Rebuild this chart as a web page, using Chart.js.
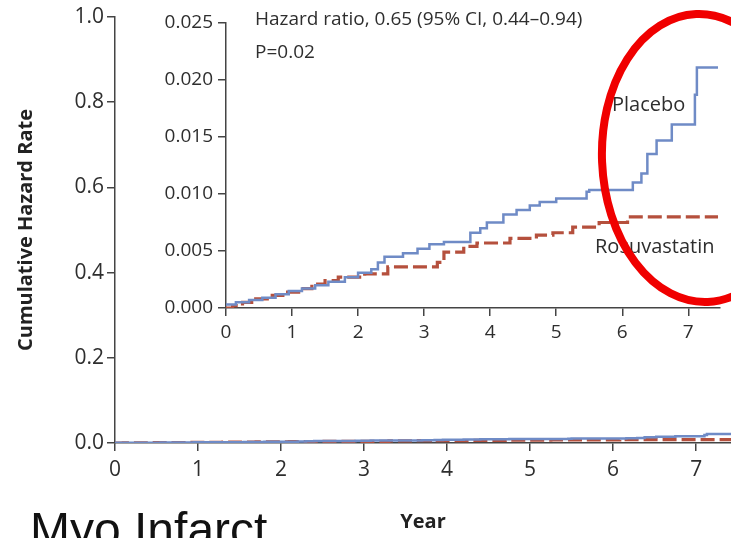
<!DOCTYPE html>
<html>
<head>
<meta charset="utf-8">
<script src="https://cdn.jsdelivr.net/npm/chart.js@4.4.1/dist/chart.umd.min.js"></script>
<style>
  body { margin: 0; background: #fff; overflow: hidden; }
  #wrap { position: relative; width: 731px; height: 538px; }
  #mainChart { position: absolute; left: 0; top: 0; }
  #insetChart { position: absolute; left: 130px; top: 0; }
</style>
</head>
<body>
<div id="wrap">
  <canvas id="mainChart" width="731" height="538"></canvas>
  <canvas id="insetChart" width="601" height="350"></canvas>
</div>
<script>
// step times (years) and cumulative hazard after each step
const placeboYears = [0, 0.15, 0.35, 0.55, 0.75, 0.95, 1.15, 1.35, 1.55, 1.8, 2.0, 2.2, 2.3, 2.4, 2.68, 2.9, 3.08, 3.3, 3.7, 3.85, 3.95, 4.2, 4.4, 4.6, 4.75, 5.0, 5.46, 5.5, 6.16, 6.29, 6.38, 6.52, 6.75, 7.10, 7.13, 7.45];
const placeboRate  = [0.0003, 0.0005, 0.0007, 0.0009, 0.0012, 0.0015, 0.0017, 0.0020, 0.0023, 0.0027, 0.0031, 0.0034, 0.0040, 0.0045, 0.0048, 0.0052, 0.0056, 0.0058, 0.0066, 0.0070, 0.0075, 0.0082, 0.0086, 0.0090, 0.0093, 0.0096, 0.0102, 0.01035, 0.0110, 0.0118, 0.0135, 0.0147, 0.0161, 0.0187, 0.0211, 0.0211];

const rosuYears = [0, 0.1, 0.25, 0.45, 0.7, 0.9, 1.1, 1.3, 1.5, 1.7, 2.1, 2.45, 3.2, 3.3, 3.6, 3.8, 4.3, 4.7, 4.95, 5.25, 5.65, 6.08, 7.45];
const rosuRate  = [0, 0.0002, 0.0005, 0.0008, 0.0011, 0.0014, 0.0017, 0.0021, 0.0024, 0.0027, 0.0030, 0.0036, 0.0040, 0.0049, 0.0054, 0.0057, 0.0061, 0.0064, 0.0066, 0.0071, 0.0075, 0.0080, 0.0080];

const mainXTicks = [0, 1, 2, 3, 4, 5, 6, 7];
const mainYTicks = [0, 0.2, 0.4, 0.6, 0.8, 1.0];
const insetXTicks = [0, 1, 2, 3, 4, 5, 6, 7];
const insetYTicks = [0, 0.005, 0.010, 0.015, 0.020, 0.025];

const BLUE = '#6f8bc6';
const RED = '#b5503d';
const AXIS = '#444';
const TEXT = '#2e2e2e';
const FONT = '"Open Sans", "DejaVu Sans", sans-serif';

const toXY = (xs, ys) => xs.map((x, i) => ({ x: x, y: ys[i] }));

function datasets() {
    return [
        {
            label: 'Placebo',
            data: toXY(placeboYears, placeboRate),
            borderColor: BLUE,
            borderWidth: 2.5,
            stepped: 'before',
            pointRadius: 0
        },
        {
            label: 'Rosuvastatin',
            data: toXY(rosuYears, rosuRate),
            borderColor: RED,
            borderWidth: 3.2,
            borderDash: [14, 5],
            stepped: 'before',
            pointRadius: 0
        }
    ];
}

function axis(min, max, ticks, digits, size, pad) {
    return {
        type: 'linear',
        min: min,
        max: max,
        afterBuildTicks: s => { s.ticks = ticks.map(v => ({ value: v })); },
        grid: { drawOnChartArea: false, tickLength: 8, color: AXIS, lineWidth: 1.5 },
        border: { color: AXIS, width: 1.5 },
        ticks: {
            color: TEXT,
            padding: pad,
            font: { family: FONT, size: size },
            callback: v => v.toFixed(digits)
        }
    };
}

// slide caption under the main chart
const slideTitle = {
    id: 'slideTitle',
    afterDraw(chart) {
        const c = chart.ctx;
        c.save();
        c.fillStyle = '#111';
        c.font = '48px "Liberation Sans", Arial, sans-serif';
        c.textBaseline = 'alphabetic';
        c.fillText('Myo Infarct', 30, 546);
        c.restore();
    }
};

// inset notes and the red highlight ring
const insetNotes = {
    id: 'insetNotes',
    afterDraw(chart) {
        const c = chart.ctx;
        c.save();
        c.fillStyle = TEXT;
        c.textBaseline = 'middle';
        c.font = '19px ' + FONT;
        c.fillText('Hazard ratio, 0.65 (95% CI, 0.44\u20130.94)', 125, 20);
        c.fillText('P=0.02', 125, 53);
        c.font = '20px ' + FONT;
        c.fillText('Placebo', 482, 105);
        c.fillText('Rosuvastatin', 465, 247);

        c.strokeStyle = '#f00000';
        c.lineWidth = 8;
        c.beginPath();
        c.ellipse(572, 158, 100, 144, -0.04, 0, Math.PI * 2);
        c.stroke();
        c.restore();
    }
};

const mainX = axis(0, 7.42, mainXTicks, 0, 21, 6);
mainX.afterFit = s => { s.height = 95; };
mainX.title = { display: true, text: 'Year', color: '#222', padding: { top: 1 }, font: { family: FONT, size: 20, weight: 'bold' } };

const mainY = axis(0, 1, mainYTicks, 1, 21, 3);
mainY.afterFit = s => { s.width = 115; };
mainY.title = { display: true, text: 'Cumulative Hazard Rate', color: '#222', padding: { top: 14 }, font: { family: FONT, size: 20, weight: 'bold' } };

new Chart(document.getElementById('mainChart').getContext('2d'), {
    type: 'line',
    data: { datasets: datasets() },
    options: {
        responsive: false,
        animation: false,
        layout: { padding: { top: 17, right: 0, bottom: 0, left: 0 } },
        plugins: { legend: { display: false }, tooltip: { enabled: false } },
        scales: { x: mainX, y: mainY }
    },
    plugins: [slideTitle]
});

const insetX = axis(0, 7.48, insetXTicks, 0, 19, 5);
insetX.afterFit = s => { s.height = 42; };

const insetY = axis(0, 0.025, insetYTicks, 3, 19, 5);
insetY.afterFit = s => { s.width = 96; };

new Chart(document.getElementById('insetChart').getContext('2d'), {
    type: 'line',
    data: { datasets: datasets() },
    options: {
        responsive: false,
        animation: false,
        layout: { padding: { top: 23, right: 11, bottom: 0, left: 0 } },
        plugins: { legend: { display: false }, tooltip: { enabled: false } },
        scales: { x: insetX, y: insetY }
    },
    plugins: [insetNotes]
});
</script>
</body>
</html>
